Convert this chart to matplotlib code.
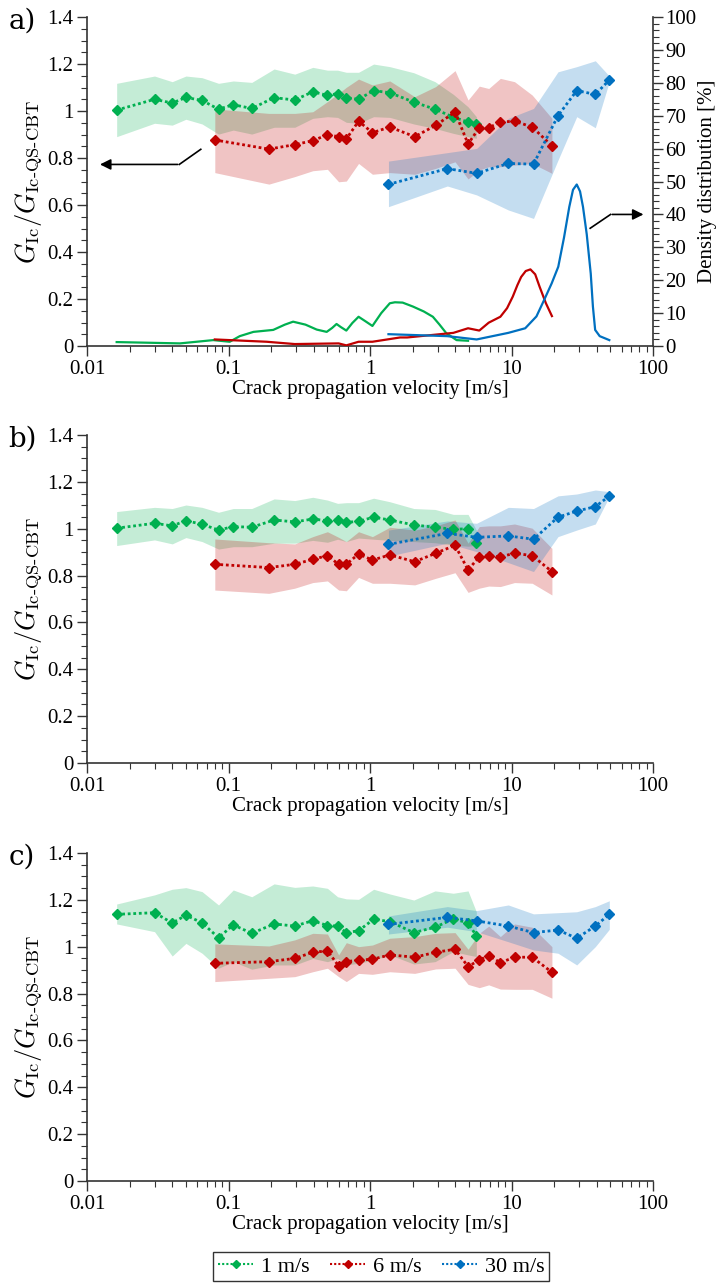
import matplotlib
matplotlib.use('Agg')
import matplotlib.pyplot as plt
from matplotlib.ticker import FixedLocator, MultipleLocator, LogLocator, NullFormatter

plt.rcParams['font.family'] = ['Liberation Serif', 'DejaVu Serif']
plt.rcParams['mathtext.fontset'] = 'cm'

# crack velocities of the data points [m/s]
x_1 = [0.0162, 0.030, 0.040, 0.050, 0.065, 0.085, 0.108, 0.146, 0.21, 0.294, 0.394,
       0.50, 0.59, 0.68, 0.83, 1.06, 1.38, 2.04, 2.88, 3.88, 4.93, 5.64]
x_6 = [0.080, 0.193, 0.294, 0.394, 0.50, 0.60, 0.68, 0.83, 1.04, 1.38, 2.07, 2.91,
       3.99, 4.93, 5.92, 6.9, 8.34, 10.5, 14.0, 19.3]
x_30 = [1.35, 3.52, 5.67, 9.49, 14.3, 21.3, 28.9, 39.1, 49.1]

# panel a
a_1 = [1.004, 1.05, 1.034, 1.058, 1.045, 1.008, 1.027, 1.011, 1.057, 1.047, 1.082,
       1.067, 1.074, 1.057, 1.05, 1.087, 1.078, 1.038, 1.008, 0.974, 0.953, 0.945]
a_1_hi = [1.118, 1.149, 1.125, 1.149, 1.142, 1.118, 1.128, 1.122, 1.179, 1.157, 1.186,
          1.174, 1.174, 1.165, 1.165, 1.2, 1.189, 1.163, 1.125, 1.071, 1.018, 0.976]
a_1_lo = [0.891, 0.948, 0.940, 0.965, 0.945, 0.902, 0.919, 0.902, 0.931, 0.931, 0.969,
          0.976, 0.973, 0.952, 0.948, 0.976, 0.973, 0.945, 0.926, 0.905, 0.891, 0.884]
a_6 = [0.877, 0.838, 0.857, 0.874, 0.899, 0.891, 0.881, 0.957, 0.908, 0.932, 0.891,
       0.939, 0.996, 0.860, 0.929, 0.929, 0.953, 0.957, 0.932, 0.852]
a_6_hi = [1.009, 0.990, 0.990, 0.997, 1.040, 1.075, 1.101, 1.136, 1.111, 1.128, 1.061,
          1.104, 1.172, 1.047, 1.106, 1.096, 1.139, 1.125, 1.068, 0.969]
a_6_lo = [0.738, 0.689, 0.721, 0.746, 0.752, 0.699, 0.702, 0.777, 0.731, 0.738, 0.731,
          0.756, 0.784, 0.711, 0.749, 0.763, 0.763, 0.770, 0.777, 0.735]
a_30 = [0.688, 0.755, 0.735, 0.777, 0.774, 0.980, 1.087, 1.071, 1.132]
a_30_hi = [0.787, 0.823, 0.841, 0.969, 1.011, 1.167, 1.189, 1.214, 1.149]
a_30_lo = [0.593, 0.681, 0.643, 0.579, 0.543, 0.791, 0.976, 0.929, 1.125]

# density distributions in panel a [%]
dens_1_x = [0.0162, 0.0454, 0.078, 0.102, 0.12, 0.150, 0.207, 0.25, 0.286, 0.35, 0.42,
            0.494, 0.54, 0.58, 0.62, 0.68, 0.75, 0.83, 0.93, 1.04, 1.2, 1.38, 1.50,
            1.7, 2.01, 2.4, 2.78, 3.1, 3.46, 4.09, 4.93]
dens_1_y = [1.2, 0.8, 1.8, 1.3, 3.0, 4.3, 4.9, 6.5, 7.4, 6.5, 5.0,
            4.3, 5.5, 6.7, 5.8, 4.7, 7.0, 8.9, 7.5, 6.1, 10.0, 13.0, 13.3,
            13.2, 12.0, 10.5, 8.9, 6.5, 3.9, 1.8, 1.6]
dens_6_x = [0.080, 0.186, 0.294, 0.60, 0.68, 0.83, 1.04, 1.63, 1.83, 3.88, 4.93,
            5.92, 6.9, 8.34, 9.3, 10.2, 11.0, 11.7, 12.6, 13.6, 14.7, 15.8, 17.5, 19.3]
dens_6_y = [2.0, 1.3, 0.6, 0.8, 0.2, 1.3, 1.3, 2.6, 2.6, 4.0, 5.4,
            4.7, 7.1, 8.9, 11.5, 15.0, 18.5, 21.0, 22.8, 23.3, 21.8, 18.0, 13.0, 9.1]
dens_30_x = [1.35, 3.52, 5.67, 9.49, 12.5, 15.0, 17.0, 19.2, 21.4, 23.5, 25.6, 27.2,
             28.9, 30.5, 32.0, 34.0, 36.3, 37.6, 39.0, 42.0, 49.1]
dens_30_y = [3.6, 3.0, 2.0, 4.0, 5.4, 9.0, 14.0, 19.0, 24.1, 33.0, 42.3, 47.5,
             49.1, 47.0, 42.3, 34.0, 22.0, 12.0, 4.9, 3.0, 1.8]

# panel b
b_1 = [1.002, 1.023, 1.012, 1.034, 1.019, 0.994, 1.009, 1.006, 1.037, 1.029, 1.041,
       1.034, 1.037, 1.027, 1.031, 1.049, 1.037, 1.016, 1.006, 0.997, 1.000, 0.938]
b_1_hi = [1.073, 1.091, 1.086, 1.101, 1.091, 1.070, 1.086, 1.086, 1.127, 1.120, 1.134,
          1.122, 1.108, 1.111, 1.111, 1.130, 1.115, 1.086, 1.082, 1.061, 1.061, 0.994]
b_1_lo = [0.928, 0.952, 0.935, 0.962, 0.945, 0.913, 0.923, 0.923, 0.938, 0.938, 0.950,
          0.942, 0.955, 0.945, 0.960, 0.955, 0.950, 0.945, 0.940, 0.930, 0.925, 0.930]
b_6 = [0.848, 0.834, 0.848, 0.869, 0.885, 0.848, 0.848, 0.892, 0.866, 0.888, 0.859,
       0.895, 0.929, 0.824, 0.880, 0.885, 0.880, 0.895, 0.885, 0.817]
b_6_hi = [0.956, 0.940, 0.935, 0.966, 0.987, 0.963, 0.945, 0.987, 0.966, 1.006, 0.994,
          1.012, 1.037, 0.938, 1.009, 1.012, 1.012, 1.020, 1.002, 0.916]
b_6_lo = [0.738, 0.724, 0.746, 0.770, 0.777, 0.738, 0.735, 0.792, 0.767, 0.767, 0.760,
          0.788, 0.812, 0.728, 0.746, 0.755, 0.753, 0.770, 0.767, 0.717]
b_30 = [0.933, 0.980, 0.963, 0.969, 0.955, 1.049, 1.075, 1.094, 1.139]
b_30_hi = [0.994, 1.033, 1.023, 1.091, 1.086, 1.140, 1.148, 1.165, 1.158]
b_30_lo = [0.883, 0.938, 0.902, 0.855, 0.817, 0.966, 0.994, 1.020, 1.137]

# panel c
c_1 = [1.138, 1.145, 1.101, 1.134, 1.102, 1.038, 1.093, 1.057, 1.097, 1.088, 1.111,
       1.090, 1.088, 1.060, 1.068, 1.117, 1.107, 1.060, 1.083, 1.118, 1.102, 1.046]
c_1_hi = [1.182, 1.221, 1.245, 1.252, 1.235, 1.178, 1.242, 1.213, 1.268, 1.253, 1.259,
          1.249, 1.213, 1.204, 1.202, 1.245, 1.225, 1.199, 1.238, 1.228, 1.238, 1.149]
c_1_lo = [1.097, 1.064, 0.960, 1.014, 0.972, 0.908, 0.936, 0.904, 0.922, 0.922, 0.950,
          0.936, 0.950, 0.922, 0.929, 0.943, 0.965, 0.926, 0.936, 0.979, 0.965, 0.958]
c_6 = [0.929, 0.936, 0.950, 0.976, 0.982, 0.918, 0.936, 0.943, 0.946, 0.965, 0.955,
       0.976, 0.989, 0.915, 0.943, 0.962, 0.932, 0.955, 0.955, 0.891]
c_6_hi = [1.012, 1.003, 1.029, 1.057, 1.054, 0.965, 1.017, 1.000, 1.007, 1.036, 1.043,
          1.057, 1.060, 0.989, 1.057, 1.088, 1.043, 1.097, 1.083, 1.000]
c_6_lo = [0.851, 0.865, 0.872, 0.893, 0.908, 0.872, 0.851, 0.886, 0.882, 0.893, 0.886,
          0.905, 0.908, 0.839, 0.825, 0.837, 0.819, 0.818, 0.818, 0.780]
c_30 = [1.095, 1.125, 1.110, 1.088, 1.060, 1.071, 1.036, 1.088, 1.138]
c_30_hi = [1.131, 1.171, 1.154, 1.178, 1.140, 1.145, 1.149, 1.171, 1.196]
c_30_lo = [1.054, 1.083, 1.064, 1.021, 0.986, 0.972, 0.922, 1.000, 1.074]

labels = ['1 m/s', '6 m/s', '30 m/s']
colors = ['#00b050', '#c00000', '#0070c0']
xticks = [0.01, 0.1, 1, 10, 100]
xticklabels = ['0.01', '0.1', '1', '10', '100']
yticks = [0, 0.2, 0.4, 0.6, 0.8, 1, 1.2, 1.4]
yticklabels = ['0', '0.2', '0.4', '0.6', '0.8', '1', '1.2', '1.4']

fig = plt.figure(figsize=(7.18, 12.83), dpi=100)
boxes = [[0.1212, 0.7303, 0.7883, 0.2564],
         [0.1212, 0.4053, 0.7883, 0.2557],
         [0.1212, 0.0795, 0.7883, 0.2557]]
spine_col = '#333333'


def style_axes(ax):
    ax.set_xscale('log')
    ax.set_xlim(0.01, 100)
    ax.set_ylim(0, 1.4)
    ax.xaxis.set_major_locator(FixedLocator(xticks))
    ax.set_xticklabels(xticklabels)
    ax.xaxis.set_minor_locator(LogLocator(base=10, subs=range(2, 10), numticks=20))
    ax.xaxis.set_minor_formatter(NullFormatter())
    ax.set_yticks(yticks)
    ax.set_yticklabels(yticklabels)
    ax.yaxis.set_minor_locator(MultipleLocator(0.05))
    ax.tick_params(which='major', length=7, width=1, labelsize=15, color=spine_col, pad=3)
    ax.tick_params(which='minor', length=4, width=0.8, color=spine_col)
    ax.spines['top'].set_visible(False)
    ax.spines['right'].set_visible(False)
    for s in ['left', 'bottom']:
        ax.spines[s].set_color(spine_col)
        ax.spines[s].set_linewidth(1.2)
    ax.set_xlabel('Crack propagation velocity [m/s]', fontsize=15, labelpad=1)
    ax.set_ylabel(r'$G_\mathrm{Ic}/G_\mathrm{Ic\text{-}QS\text{-}CBT}$', fontsize=19, labelpad=2)


def draw_series(ax, xs, ys, lo, hi, color, label):
    ax.fill_between(xs, lo, hi, color=color, alpha=0.23, linewidth=0)
    ax.plot(xs, ys, linestyle=(0, (1, 1)), color=color, linewidth=2, marker='D',
            markersize=5.5, label=label, zorder=3)


panels = [
    [(x_1, a_1, a_1_lo, a_1_hi), (x_6, a_6, a_6_lo, a_6_hi), (x_30, a_30, a_30_lo, a_30_hi)],
    [(x_1, b_1, b_1_lo, b_1_hi), (x_6, b_6, b_6_lo, b_6_hi), (x_30, b_30, b_30_lo, b_30_hi)],
    [(x_1, c_1, c_1_lo, c_1_hi), (x_6, c_6, c_6_lo, c_6_hi), (x_30, c_30, c_30_lo, c_30_hi)],
]
letters = ['a)', 'b)', 'c)']

axes = []
for i, box in enumerate(boxes):
    ax = fig.add_axes(box)
    style_axes(ax)
    for (xs, ys, lo, hi), col, lab in zip(panels[i], colors, labels):
        draw_series(ax, xs, ys, lo, hi, col, lab)
    fig.text(0.012, box[1] + box[3] - 0.003, letters[i], fontsize=20,
             family='DejaVu Serif', va='center', ha='left')
    axes.append(ax)

# density on right axis of panel a
ax2 = axes[0].twinx()
ax2.set_ylim(0, 100)
ax2.set_yticks(range(0, 101, 10))
ax2.yaxis.set_minor_locator(MultipleLocator(2))
ax2.tick_params(which='major', length=7, width=1, labelsize=15, color=spine_col, pad=2)
ax2.tick_params(which='minor', length=4, width=0.8, color=spine_col)
ax2.spines['top'].set_visible(False)
ax2.spines['left'].set_visible(False)
ax2.spines['bottom'].set_visible(False)
ax2.spines['right'].set_color(spine_col)
ax2.spines['right'].set_linewidth(1.2)
ax2.set_ylabel('Density distribution [%]', fontsize=15, labelpad=1)
for dx, dy, col in zip([dens_1_x, dens_6_x, dens_30_x], [dens_1_y, dens_6_y, dens_30_y], colors):
    ax2.plot(dx, dy, color=col, linewidth=1.6)

# arrows pointing to the axes
ax = axes[0]
ax.plot([0.201, 0.163], [0.598, 0.552], color='black', lw=1.2, transform=ax.transAxes)
ax.annotate('', xy=(0.018, 0.552), xytext=(0.165, 0.552), xycoords='axes fraction',
            arrowprops=dict(arrowstyle='-|>', color='black', lw=1.2, mutation_scale=16))
ax.plot([0.889, 0.925], [0.358, 0.400], color='black', lw=1.2, transform=ax.transAxes)
ax.annotate('', xy=(0.988, 0.400), xytext=(0.923, 0.400), xycoords='axes fraction',
            arrowprops=dict(arrowstyle='-|>', color='black', lw=1.2, mutation_scale=16),
            annotation_clip=False)

handles, labs = axes[0].get_legend_handles_labels()
leg = fig.legend(handles, labs, loc='upper center', bbox_to_anchor=(0.531, 0.0245),
                 ncol=3, fontsize=16, frameon=True, fancybox=False, handlelength=1.6,
                 handletextpad=0.35, columnspacing=0.9, borderpad=0.2, borderaxespad=0)
leg.get_frame().set_edgecolor('black')
leg.get_frame().set_linewidth(1.0)
for h in leg.legend_handles:
    h.set_markersize(4.5)
    h.set_linewidth(1.5)

fig.savefig('out.png', dpi=100)
